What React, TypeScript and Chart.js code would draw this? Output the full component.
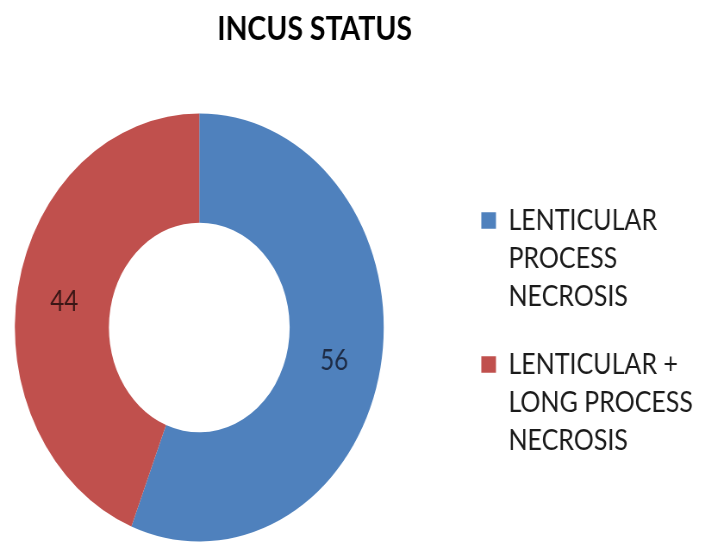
import React, { useEffect, useRef } from 'react';
import { Chart, registerables, layouts } from 'chart.js';

Chart.register(...registerables);

const TITLE = 'INCUS STATUS';
const categories: string[][] = [
  ['LENTICULAR', 'PROCESS', 'NECROSIS'],
  ['LENTICULAR +', 'LONG PROCESS', 'NECROSIS'],
];
const values: number[] = [56, 44];
const sliceColors: string[] = ['#4F81BD', '#C0504D'];
const valueLabelColors: string[] = ['#1d2b45', '#3a1616'];

const CANVAS_W = 818;
const CANVAS_H = 545;
const SCALE_X = 705 / CANVAS_W;
const LEGEND_GAP = 66;

export default function App() {
  const ref = useRef<HTMLCanvasElement | null>(null);

  useEffect(() => {
    const canvas = ref.current;
    if (!canvas) return;

    // empty layout box that keeps a gap between the doughnut and the legend
    const legendGap = {
      id: 'legendGap',
      beforeInit(chart: any) {
        const box: any = {
          position: 'right',
          weight: 0,
          fullSize: false,
          options: {},
          left: 0,
          top: 0,
          right: 0,
          bottom: 0,
          width: 0,
          height: 0,
          isHorizontal() {
            return false;
          },
          update(_maxWidth: number, maxHeight: number) {
            this.width = LEGEND_GAP;
            this.height = maxHeight;
          },
          draw() {},
        };
        layouts.addBox(chart, box);
      },
    };

    const sliceLabels = {
      id: 'sliceLabels',
      afterDatasetsDraw(chart: any) {
        const ctx = chart.ctx;
        const meta = chart.getDatasetMeta(0);
        ctx.save();
        ctx.font = '28px Lato';
        ctx.textAlign = 'center';
        ctx.textBaseline = 'middle';
        meta.data.forEach((arc: any, i: number) => {
          const p = arc.getCenterPoint();
          ctx.fillStyle = valueLabelColors[i];
          ctx.fillText(String(values[i]), p.x, p.y + 4);
        });
        ctx.restore();
      },
    };

    const chart = new Chart(canvas, {
      type: 'doughnut',
      data: {
        labels: categories as any,
        datasets: [
          {
            data: values,
            backgroundColor: sliceColors,
            borderWidth: 0,
          },
        ],
      },
      options: {
        responsive: false,
        animation: false,
        devicePixelRatio: 1,
        cutout: '49%',
        layout: { padding: { left: -84, right: 4, top: 0, bottom: 3.5 } },
        plugins: {
          title: {
            display: true,
            text: TITLE,
            color: '#000000',
            font: { family: 'Lato', size: 33, weight: 'bold', lineHeight: 1.2 },
            padding: { top: 10, bottom: 63.9 },
          },
          legend: {
            position: 'right',
            fullSize: false,
            maxWidth: 420,
            title: { display: true, text: '', font: { size: 15, lineHeight: 1 }, padding: 0 },
            labels: {
              boxWidth: 17,
              boxHeight: 16.5,
              padding: 30,
              color: '#1a1a1a',
              font: { family: 'Lato', size: 29, lineHeight: '38px' },
            },
          },
          tooltip: { enabled: false },
        },
      } as any,
      plugins: [legendGap, sliceLabels],
    });

    return () => chart.destroy();
  }, []);

  return (
    <div
      style={{
        position: 'fixed',
        left: 0,
        top: 0,
        width: 705,
        height: 545,
        overflow: 'hidden',
        background: '#ffffff',
      }}
    >
      <canvas
        ref={ref}
        width={CANVAS_W}
        height={CANVAS_H}
        style={{
          display: 'block',
          width: CANVAS_W,
          height: CANVAS_H,
          transform: `scaleX(${SCALE_X})`,
          transformOrigin: '0 0',
        }}
      />
    </div>
  );
}
